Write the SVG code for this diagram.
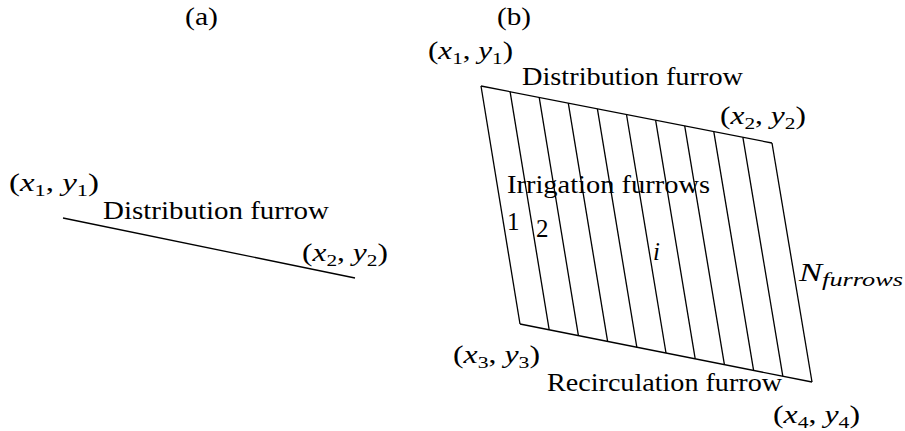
<svg xmlns="http://www.w3.org/2000/svg" width="905" height="431" viewBox="0 0 905 431">
<style>
text{font-family:"Liberation Serif","Times New Roman",serif;font-size:25px;fill:#000}
.it{font-style:italic}
.sb{font-size:17px}
.sb2{font-size:19px}
.ln{stroke:#000;stroke-width:1.3;fill:none}
</style>
<rect width="905" height="431" fill="#fff"/>
<g id="panel-a">
  <text x="185" y="25" textLength="33" lengthAdjust="spacingAndGlyphs">(a)</text>
  <line class="ln" x1="63" y1="218" x2="355" y2="278"/>
  <text x="9" y="191" textLength="90" lengthAdjust="spacingAndGlyphs">(<tspan class="it">x</tspan><tspan class="sb" dy="5">1</tspan><tspan dy="-5">, </tspan><tspan class="it">y</tspan><tspan class="sb" dy="5">1</tspan><tspan dy="-5">)</tspan></text>
  <text x="103" y="219" textLength="226" lengthAdjust="spacingAndGlyphs">Distribution furrow</text>
  <text x="302" y="261" textLength="86" lengthAdjust="spacingAndGlyphs">(<tspan class="it">x</tspan><tspan class="sb" dy="5">2</tspan><tspan dy="-5">, </tspan><tspan class="it">y</tspan><tspan class="sb" dy="5">2</tspan><tspan dy="-5">)</tspan></text>
</g>
<g id="panel-b">
  <text x="497" y="25" textLength="34" lengthAdjust="spacingAndGlyphs">(b)</text>
  <g id="field" class="ln">
    <line x1="481" y1="86" x2="772" y2="143"/>
    <line x1="520" y1="324" x2="812" y2="382"/>
    <line x1="481" y1="86" x2="520" y2="324"/>
    <line x1="510.1" y1="91.7" x2="549.2" y2="329.8"/>
    <line x1="539.2" y1="97.4" x2="578.4" y2="335.6"/>
    <line x1="568.3" y1="103.1" x2="607.6" y2="341.4"/>
    <line x1="597.4" y1="108.8" x2="636.8" y2="347.2"/>
    <line x1="626.5" y1="114.5" x2="666" y2="353"/>
    <line x1="655.6" y1="120.2" x2="695.2" y2="358.8"/>
    <line x1="684.7" y1="125.9" x2="724.4" y2="364.6"/>
    <line x1="713.8" y1="131.6" x2="753.6" y2="370.4"/>
    <line x1="742.9" y1="137.3" x2="782.8" y2="376.2"/>
    <line x1="772" y1="143" x2="812" y2="382"/>
  </g>
  <text x="428" y="59" textLength="85" lengthAdjust="spacingAndGlyphs">(<tspan class="it">x</tspan><tspan class="sb" dy="5">1</tspan><tspan dy="-5">, </tspan><tspan class="it">y</tspan><tspan class="sb" dy="5">1</tspan><tspan dy="-5">)</tspan></text>
  <text x="522" y="85" textLength="221" lengthAdjust="spacingAndGlyphs">Distribution furrow</text>
  <text x="720" y="124" textLength="86" lengthAdjust="spacingAndGlyphs">(<tspan class="it">x</tspan><tspan class="sb" dy="5">2</tspan><tspan dy="-5">, </tspan><tspan class="it">y</tspan><tspan class="sb" dy="5">2</tspan><tspan dy="-5">)</tspan></text>
  <text x="507" y="193" textLength="203" lengthAdjust="spacingAndGlyphs">Irrigation furrows</text>
  <text x="507" y="230">1</text>
  <text x="536" y="237">2</text>
  <text x="653" y="260" class="it">i</text>
  <text x="799" y="281" textLength="104" lengthAdjust="spacingAndGlyphs"><tspan class="it">N</tspan><tspan class="it sb2" dy="5">furrows</tspan></text>
  <text x="453" y="363" textLength="87" lengthAdjust="spacingAndGlyphs">(<tspan class="it">x</tspan><tspan class="sb" dy="5">3</tspan><tspan dy="-5">, </tspan><tspan class="it">y</tspan><tspan class="sb" dy="5">3</tspan><tspan dy="-5">)</tspan></text>
  <text x="547" y="391" textLength="235" lengthAdjust="spacingAndGlyphs">Recirculation furrow</text>
  <text x="773" y="423" textLength="87" lengthAdjust="spacingAndGlyphs">(<tspan class="it">x</tspan><tspan class="sb" dy="5">4</tspan><tspan dy="-5">, </tspan><tspan class="it">y</tspan><tspan class="sb" dy="5">4</tspan><tspan dy="-5">)</tspan></text>
</g>
</svg>
